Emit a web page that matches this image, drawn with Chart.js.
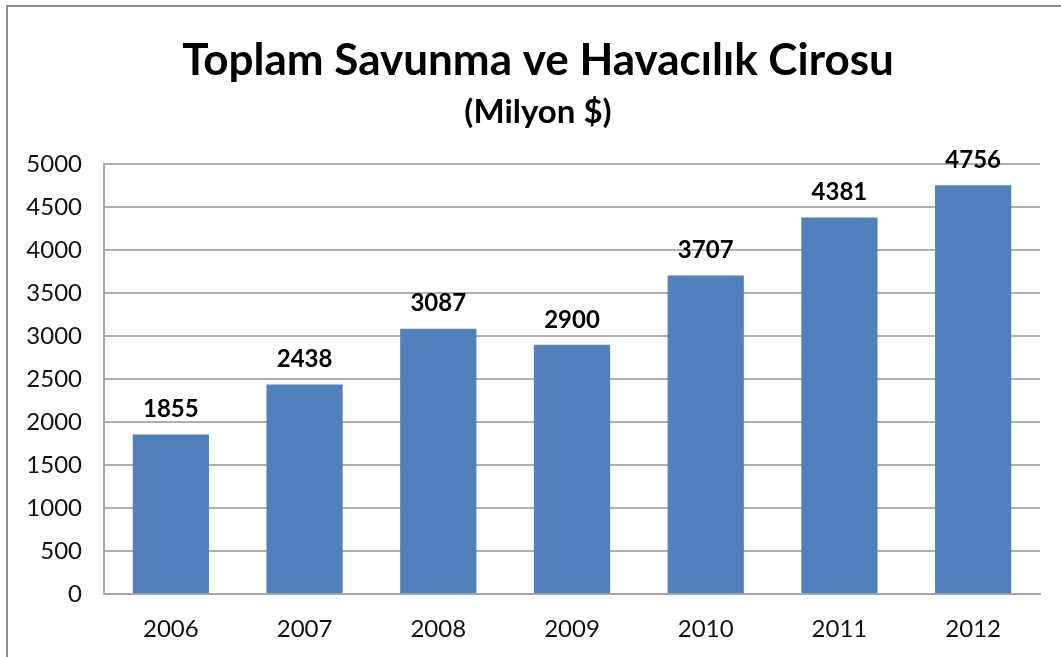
<!DOCTYPE html>
<html>
<head>
<meta charset="utf-8">
<script src="https://cdn.jsdelivr.net/npm/chart.js@4/dist/chart.umd.min.js"></script>
<style>
  html, body { margin: 0; padding: 0; overflow: hidden; background: #fff; }
  #frame { position: absolute; left: 6px; top: 5px; width: 1100px; height: 700px; border: 2px solid #8c8c8c; }
  #wrap { position: absolute; left: 0; top: 0; width: 1061px; height: 657px; }
</style>
</head>
<body>
<div id="frame"></div>
<div id="wrap"><canvas id="ciro"></canvas></div>
<script>
var years = ['2006', '2007', '2008', '2009', '2010', '2011', '2012'];
var ciro = [1855, 2438, 3087, 2900, 3707, 4381, 4756];
var yTicks = [0, 500, 1000, 1500, 2000, 2500, 3000, 3500, 4000, 4500, 5000];

var fontName = 'Lato, "Open Sans", sans-serif';

// value labels above bars
var barLabels = {
    id: 'barLabels',
    afterDatasetsDraw: function(chart) {
        var ctx = chart.ctx;
        var meta = chart.getDatasetMeta(0);
        ctx.save();
        ctx.font = 'bold 24px ' + fontName;
        ctx.fillStyle = '#000';
        ctx.textAlign = 'center';
        ctx.textBaseline = 'middle';
        meta.data.forEach(function(bar, i) {
            ctx.fillText(String(ciro[i]), bar.x, bar.y - 25);
        });
        ctx.restore();
    }
};

// title is centred on the frame, not the plot; nudge title boxes right
var titleShift = {
    id: 'titleShift',
    afterLayout: function(chart) {
        chart.boxes.forEach(function(b) {
            if (b.position === 'top' && b.options && b.options.text) {
                b.left += 36;
            }
        });
    }
};

var ctx1 = document.getElementById('ciro').getContext('2d');

var ciroChart = new Chart(ctx1, {
    type: 'bar',
    data: {
        labels: years,
        datasets: [{
            label: 'Ciro',
            data: ciro,
            backgroundColor: '#4f81bd',
            borderWidth: 0,
            barPercentage: 0.57,
            categoryPercentage: 1
        }]
    },
    options: {
        responsive: true,
        maintainAspectRatio: false,
        animation: false,
        layout: { padding: { left: 0, right: 21, top: 0, bottom: 0 } },
        plugins: {
            legend: { display: false },
            tooltip: { enabled: false },
            title: {
                display: true,
                text: 'Toplam Savunma ve Havacılık Cirosu',
                color: '#000',
                font: { family: fontName, size: 44, weight: 'bold', lineHeight: 1.2 },
                padding: { top: 34, bottom: 4 }
            },
            subtitle: {
                display: true,
                text: '(Milyon $)',
                color: '#000',
                font: { family: fontName, size: 33, weight: 'bold', lineHeight: 1.2 },
                padding: { top: 2, bottom: 32 }
            }
        },
        scales: {
            x: {
                grid: { display: false, drawTicks: false },
                border: { display: true, color: '#a6a6a6', width: 2 },
                ticks: {
                    color: '#111',
                    font: { family: fontName, size: 24 },
                    padding: 21
                },
                afterFit: function(s) { s.height = 63; }
            },
            y: {
                min: 0,
                max: 5000,
                afterBuildTicks: function(s) {
                    s.ticks = yTicks.map(function(v) { return { value: v }; });
                },
                grid: { color: '#b0b0b0', lineWidth: 2, drawTicks: false },
                border: { display: true, color: '#a6a6a6', width: 2 },
                ticks: {
                    color: '#111',
                    font: { family: fontName, size: 24 },
                    padding: 22,
                    callback: function(v) { return String(v); }
                },
                afterFit: function(s) { s.width = 104; }
            }
        }
    },
    plugins: [barLabels, titleShift]
});
</script>
</body>
</html>
